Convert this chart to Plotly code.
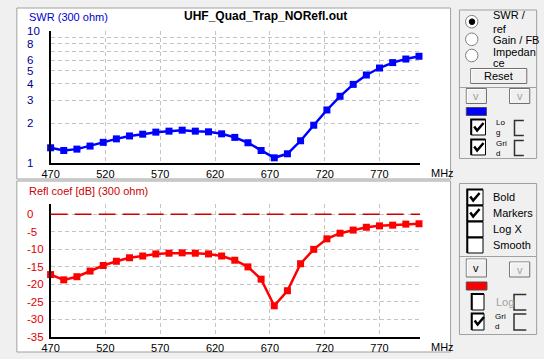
import math
import plotly.graph_objects as go

W, H = 544, 359

# ---------------- data ----------------
freq_mhz = [470, 482, 494, 506, 518, 530, 542, 554, 566, 578, 590, 602, 614, 626, 638,
            650, 662, 674, 686, 698, 710, 722, 734, 746, 758, 770, 782, 794, 806]
swr = [1.31, 1.25, 1.28, 1.35, 1.44, 1.53, 1.61, 1.66, 1.72, 1.75, 1.78, 1.75, 1.73, 1.67, 1.57,
       1.43, 1.25, 1.10, 1.18, 1.48, 1.94, 2.53, 3.21, 3.95, 4.65, 5.25, 5.77, 6.14, 6.44]
refl_db = [-17.2, -18.7, -17.8, -16.2, -14.6, -13.4, -12.4, -11.9, -11.3, -11.1, -11.0, -11.1, -11.3, -11.9, -13.1,
           -15.0, -18.5, -26.1, -21.8, -14.1, -10.0, -7.0, -5.4, -4.5, -3.7, -3.3, -3.1, -2.8, -2.7]
x_ticks = [470, 520, 570, 620, 670, 720, 770]
swr_tick_labels = [1, 2, 3, 4, 5, 6, 8, 10]
swr_grid = [2, 3, 4, 5, 6, 7, 8, 9]
refl_ticks = [0, -5, -10, -15, -20, -25, -30, -35]
refl_grid = [0, -5, -10, -15, -20, -25, -30]
title_text = "UHF_Quad_Trap_NORefl.out"

FONT = "Liberation Sans, Arial, sans-serif"
BLUE = "#0000ff"
RED = "#ff0000"


def X(x):
    return x / W


def Y(y):
    return 1 - y / H


shapes = []
annotations = []


def rect(x0, y0, x1, y1, line="#a0a0a0", fill=None, width=1, layer="below"):
    shapes.append(dict(type="rect", xref="paper", yref="paper",
                       x0=X(x0), x1=X(x1), y0=Y(y1), y1=Y(y0),
                       line=dict(color=line, width=width) if line else dict(width=0),
                       fillcolor=fill, layer=layer))


def path(pts, color="#000000", width=1, layer="below"):
    d = "M " + " L ".join(f"{X(a):.5f},{Y(b):.5f}" for a, b in pts)
    shapes.append(dict(type="path", xref="paper", yref="paper", path=d,
                       line=dict(color=color, width=width), layer=layer))


def circle(cx, cy, r, line="#808080", fill="white", width=1):
    shapes.append(dict(type="circle", xref="paper", yref="paper",
                       x0=X(cx - r), x1=X(cx + r), y0=Y(cy + r), y1=Y(cy - r),
                       line=dict(color=line, width=width), fillcolor=fill, layer="below"))


def text(x, y, s, size=11, color="#000000", anchor="left", bold=False, pad=1):
    annotations.append(dict(xref="paper", yref="paper", x=X(x), y=Y(y), text=(f"<b>{s}</b>" if bold else s),
                            showarrow=False, xanchor=anchor, yanchor="middle", align="left",
                            borderpad=pad,
                            font=dict(family=FONT, size=size, color=color)))


def checkbox(x0, y0, x1, y1, checked):
    rect(x0, y0, x1, y1, line="#000000", fill="white", width=1)
    path([(x0, y1), (x0, y0), (x1, y0)], color="#000000", width=2)
    if checked:
        path([(x0 + 3, y0 + 7), (x0 + 6, y0 + 11), (x0 + 12.5, y0 + 3.5)], color="#000000", width=2.5)


def bracket(x0, y0, x1, y1):
    path([(x1, y0), (x0, y0), (x0, y1), (x1, y1)], color="#303030", width=1.5)


def button(x0, y0, x1, y1, label, color="#000000"):
    rect(x0, y0, x1, y1, line="#707070", fill="#f0f0f0", width=1)
    path([(x0 + 1, y1 - 1), (x0 + 1, y0 + 1), (x1 - 1, y0 + 1)], color="#ffffff", width=1)
    text((x0 + x1) / 2, (y0 + y1) / 2, label, size=11, color=color, anchor="center")


# ---------------- chart panels ----------------
rect(8, 8, 449, 179, line="#a0a0a0", fill="white")
rect(8, 181, 449, 352, line="#a0a0a0", fill="white")

# ---------------- traces ----------------
fig = go.Figure()
fig.add_trace(go.Scatter(x=freq_mhz, y=swr, mode="lines+markers", xaxis="x", yaxis="y",
                         line=dict(color=BLUE, width=2.5),
                         marker=dict(symbol="square", size=7, color=BLUE), showlegend=False,
                         cliponaxis=False, hoverinfo="skip"))
fig.add_trace(go.Scatter(x=freq_mhz, y=refl_db, mode="lines+markers", xaxis="x2", yaxis="y2",
                         line=dict(color=RED, width=2.5),
                         marker=dict(symbol="square", size=7, color=RED), showlegend=False,
                         cliponaxis=False, hoverinfo="skip"))

# zero reference line in the reflection panel
shapes.append(dict(type="line", xref="x2 domain", yref="y2", x0=0, x1=1, y0=0, y1=0,
                   line=dict(color="#d00000", width=1.5, dash="17px,7px"), layer="above"))

x_dom = [42.3 / W, 418 / W]
grid = dict(showgrid=True, gridcolor="#c4c4c4", griddash="4px,3px", gridwidth=1)
axis_common = dict(showline=True, linecolor="#000000", linewidth=1.5, zeroline=False, ticks="", fixedrange=True)

xaxis_common = dict(domain=x_dom, range=[470, 807], tickvals=x_ticks, showticklabels=True,
                    tickfont=dict(family=FONT, size=11, color="#000000"), **grid, **axis_common)

fig.update_layout(
    width=W, height=H, autosize=False,
    margin=dict(l=0, r=0, t=0, b=0, pad=0),
    paper_bgcolor="#f0f0f0", plot_bgcolor="rgba(0,0,0,0)",
    xaxis=dict(anchor="y", **xaxis_common),
    yaxis=dict(anchor="x", type="log", range=[0, 1], domain=[Y(163.3), Y(31)],
               tickvals=swr_grid, showticklabels=False, **grid, **axis_common),
    xaxis2=dict(anchor="y2", **xaxis_common),
    yaxis2=dict(anchor="x2", range=[-35, 2.85], domain=[Y(337), Y(204.3)],
                tickvals=refl_grid, showticklabels=False, **grid, **axis_common),
)

# y tick labels (left aligned, like the original)
for v in swr_tick_labels:
    annotations.append(dict(xref="paper", yref="y", x=X(16.5), y=math.log10(v), text=str(v),
                            showarrow=False, xanchor="left", yanchor="middle",
                            font=dict(family=FONT, size=11.5, color="#000090")))
for v in refl_ticks:
    annotations.append(dict(xref="paper", yref="y2", x=X(16.5), y=v, text=str(v),
                            showarrow=False, xanchor="left", yanchor="middle",
                            font=dict(family=FONT, size=11.5, color="#e00000")))

# titles
text(261, 16.5, title_text, size=12, anchor="center", bold=True)
text(18, 17, "SWR (300 ohm)", size=11, color="#0000d0")
text(18, 190.5, "Refl coef [dB] (300 ohm)", size=11, color="#d00000")
text(427, 172.5, "MHz", size=11)
text(427, 346.5, "MHz", size=11)

# ---------------- right control panel ----------------
# group box 1
rect(458, 10, 536.5, 87.5, line="#a0a0a0")
circle(470.5, 21.7, 6.3)
circle(470.8, 21.7, 2.8, line="#000000", fill="#000000")
circle(470.5, 39.3, 6.3)
circle(470.5, 55.5, 6.3)
text(490, 14.5, "SWR /", size=11)
text(490, 29.5, "ref", size=11)
text(490, 40, "Gain / FB", size=11)
text(490, 51.5, "Impedan", size=11)
text(490, 63, "ce", size=11)
button(469.5, 68.5, 526.5, 83.5, "Reset")

# group box 2
rect(458, 87.5, 536.5, 158.5, line="#a0a0a0")
button(465, 88.5, 485.5, 103.5, "v", color="#a0a0a0")
button(509, 88.5, 529.5, 103.5, "v", color="#a0a0a0")
rect(465, 107.5, 485.5, 115.5, line="#505050", fill=BLUE)
checkbox(470, 119.5, 484.5, 135, True)
checkbox(470, 139.5, 484.5, 155, True)
text(494, 127.5, "Lo<br>g", size=8, pad=0)
text(494, 148, "Gri<br>d", size=8, pad=0)
bracket(514, 120.5, 523.5, 135.5)
bracket(514, 140.5, 523.5, 155.5)

# group box 3
rect(458, 183.5, 536.5, 256.5, line="#a0a0a0")
for (yy, lab, chk) in [(189.5, "Bold", True), (205.5, "Markers", True),
                       (221.5, "Log X", False), (237.5, "Smooth", False)]:
    checkbox(466, yy, 482, yy + 15.5, chk)
    text(490, yy + 7.5, lab, size=11)

# group box 4
rect(458, 256.5, 536.5, 334.5, line="#a0a0a0")
button(465, 259, 485.5, 277, "v", color="#000000")
button(509, 262, 529.5, 277, "v", color="#a0a0a0")
rect(465, 282, 486, 290, line="#505050", fill=RED)
checkbox(470.5, 294, 483, 310, False)
text(493, 301.5, "Log", size=11, color="#a0a0a0")
bracket(513.5, 294.5, 526, 310)
checkbox(470.5, 313.5, 483, 330, True)
text(493, 321.5, "Gri<br>d", size=8, pad=0)
bracket(513.5, 314, 526, 330)

fig.update_layout(shapes=shapes, annotations=annotations, hovermode=False, dragmode=False)
fig.write_html(
    "out.html",
    config={"displayModeBar": False, "staticPlot": True},
    post_script="document.body.style.margin='0';document.body.style.padding='0';"
                "document.body.style.background='#f0f0f0';document.body.style.overflow='hidden';",
)
